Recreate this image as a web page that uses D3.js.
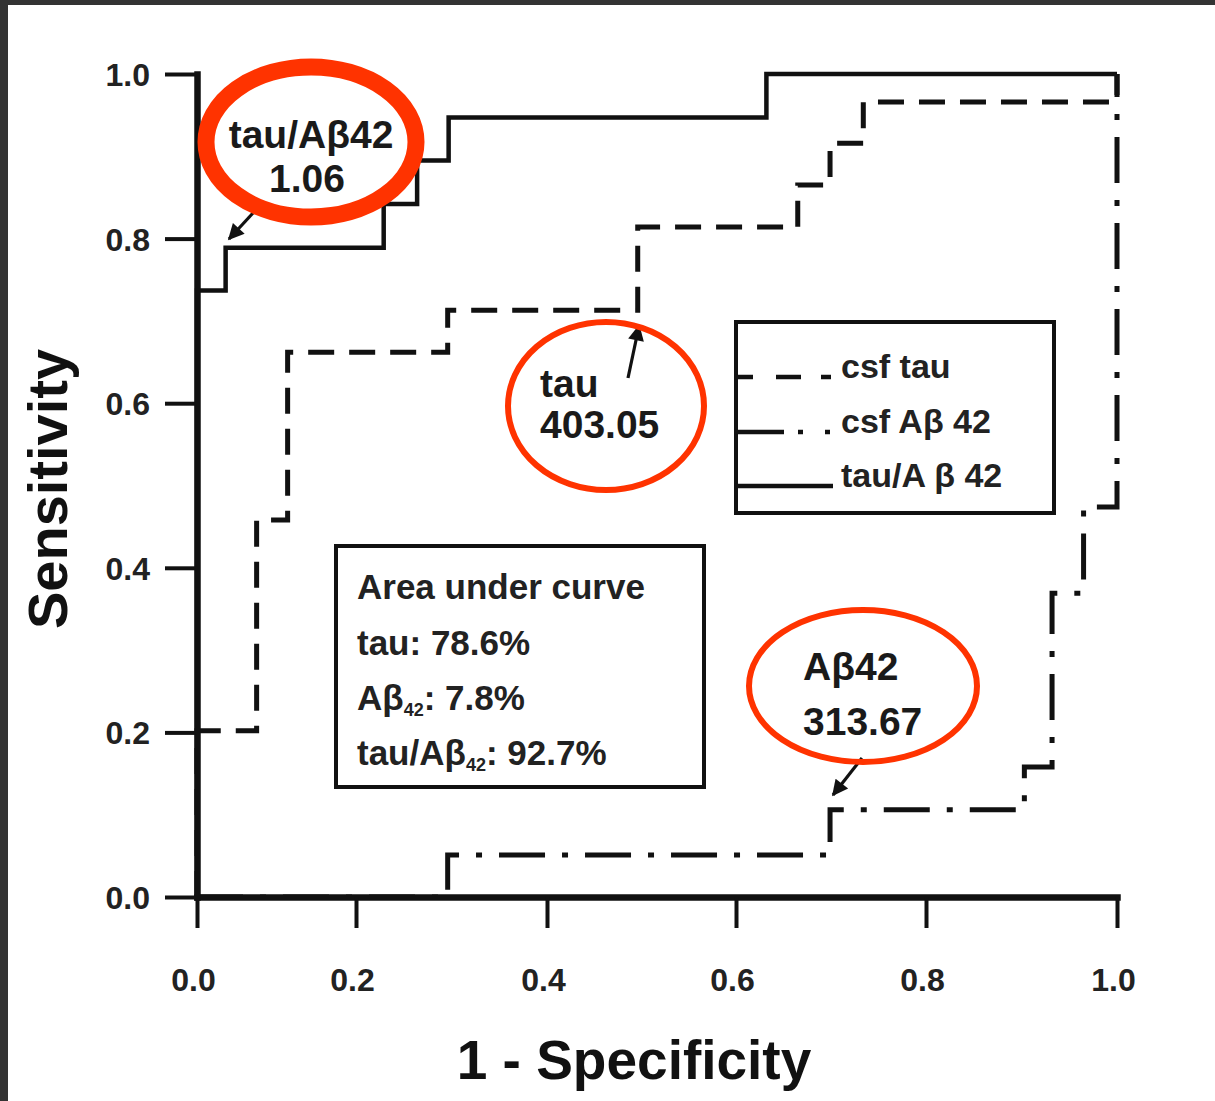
<!DOCTYPE html>
<html><head><meta charset="utf-8">
<script src="https://cdn.jsdelivr.net/npm/d3@7"></script>
<style>
body{margin:0;background:#fff}
svg{display:block}
text{font-family:"Liberation Sans",Arial,Helvetica,sans-serif}
</style>
</head><body>
<svg id="c" width="1215" height="1101"></svg>
<script>
// ---- data ----
const xTicks = [0, 0.2, 0.4, 0.6, 0.8, 1.0];
const yTicks = [0, 0.2, 0.4, 0.6, 0.8, 1.0];
const xTickLabels = ["0.0", "0.2", "0.4", "0.6", "0.8", "1.0"];
const yTickLabels = ["0.0", "0.2", "0.4", "0.6", "0.8", "1.0"];

// csf tau (dashed)
const tauFpr = [0, 0, 0.075, 0.114, 0.296, 0.496, 0.665, 0.699, 0.734, 1];
const tauTpr = [0, 0.202, 0.458, 0.662, 0.713, 0.814, 0.865, 0.916, 0.966, 1];
// csf Abeta42 (dash-dot)
const abFpr = [0, 0.296, 0.699, 0.903, 0.932, 0.965, 1];
const abTpr = [0, 0.051, 0.106, 0.158, 0.369, 0.474, 1];
// tau/Abeta42 (solid)
const ratioFpr = [0, 0, 0.036, 0.229, 0.264, 0.297, 0.632, 1];
const ratioTpr = [0, 0.737, 0.789, 0.842, 0.895, 0.947, 1, 1];

const legendLabels = ["csf tau", "csf Aβ 42", "tau/A β 42"];
const aucTitle = "Area under curve";
const aucNames = ["tau", "Aβ", "tau/Aβ"];
const aucSubs = ["", "42", "42"];
const aucValues = ["78.6%", "7.8%", "92.7%"];

const cutoffNames = ["tau/Aβ42", "tau", "Aβ42"];
const cutoffValues = ["1.06", "403.05", "313.67"];

// ---- drawing ----
const svg = d3.select("#c");
const W = 1215, H = 1101;
const ink = "#111";
const red = "#ff3300";

svg.append("rect").attr("width", W).attr("height", H).attr("fill", "#333");
svg.append("rect").attr("x", 8).attr("y", 5).attr("width", W - 8).attr("height", H - 5).attr("fill", "#fff");

// scales (x axis of the original is slightly uneven; piecewise mapping follows its ticks)
const x = d3.scaleLinear().domain(xTicks).range([197, 356, 547, 736, 926, 1117]);
const y = d3.scaleLinear().domain([0, 1]).range([897, 74]);

function stepLine(fx, fy) {
  return d3.line().x((d, i) => x(fx[i])).y((d, i) => y(fy[i])).curve(d3.curveStepAfter)(fx);
}

// curves
svg.append("path").attr("d", stepLine(tauFpr, tauTpr))
  .attr("fill", "none").attr("stroke", ink).attr("stroke-width", 5)
  .attr("stroke-dasharray", "26,15");
svg.append("path").attr("d", stepLine(abFpr, abTpr))
  .attr("fill", "none").attr("stroke", ink).attr("stroke-width", 5)
  .attr("stroke-dasharray", "46,17,6,17");
svg.append("path").attr("d", stepLine(ratioFpr, ratioTpr))
  .attr("fill", "none").attr("stroke", ink).attr("stroke-width", 4.5);

// axes
const gx = svg.append("g").attr("transform", "translate(0,897)")
  .call(d3.axisBottom(x).tickValues(xTicks).tickFormat((d, i) => xTickLabels[i])
    .tickSize(31).tickSizeOuter(0).tickPadding(40));
const gy = svg.append("g").attr("transform", "translate(197,0)")
  .call(d3.axisLeft(y).tickValues(yTicks).tickFormat((d, i) => yTickLabels[i])
    .tickSize(32).tickSizeOuter(0).tickPadding(15));
[gx, gy].forEach(g => {
  g.select(".domain").style("stroke", ink).style("stroke-width", "6.5px").style("stroke-linecap", "square");
  g.selectAll(".tick line").style("stroke", ink).style("stroke-width", "4px");
  g.selectAll(".tick text").attr("fill", "#222").attr("font-size", 32).attr("font-weight", "bold")
    .attr("font-family", '"Liberation Sans",Arial,sans-serif');
});
gx.selectAll(".tick text").attr("dx", -4);
gy.selectAll(".tick text").attr("dy", "0.36em");

// axis titles
svg.append("text").attr("x", 634).attr("y", 1079).attr("text-anchor", "middle")
  .attr("font-size", 55).attr("font-weight", "bold").attr("fill", ink).text("1 - Specificity");
svg.append("text").attr("transform", "translate(67,489) rotate(-90)").attr("text-anchor", "middle")
  .attr("font-size", 56).attr("font-weight", "bold").attr("fill", ink).text("Sensitivity");

// legend box
svg.append("rect").attr("x", 736).attr("y", 322).attr("width", 318).attr("height", 191)
  .attr("fill", "none").attr("stroke", ink).attr("stroke-width", 4);
const legY = [377, 432, 486];
const legDash = ["17,23,25,20,10,100", "48,14,5,22,5,100", null];
legendLabels.forEach((lab, i) => {
  const ln = svg.append("line").attr("x1", 736).attr("x2", 833).attr("y1", legY[i]).attr("y2", legY[i])
    .attr("stroke", ink).attr("stroke-width", 4.5);
  if (legDash[i]) ln.attr("stroke-dasharray", legDash[i]);
  svg.append("text").attr("x", 841).attr("y", legY[i] + 1).attr("font-size", 34).attr("font-weight", "bold")
    .attr("fill", "#222").text(lab);
});

// AUC box
svg.append("rect").attr("x", 336).attr("y", 546).attr("width", 368).attr("height", 241)
  .attr("fill", "none").attr("stroke", ink).attr("stroke-width", 4);
svg.append("text").attr("x", 357).attr("y", 599).attr("font-size", 35).attr("font-weight", "bold")
  .attr("fill", "#222").text(aucTitle);
const aucY = [655, 710, 765];
aucNames.forEach((n, i) => {
  const t = svg.append("text").attr("x", 357).attr("y", aucY[i]).attr("font-size", 35)
    .attr("font-weight", "bold").attr("fill", "#222");
  t.append("tspan").text(n);
  if (aucSubs[i]) {
    t.append("tspan").attr("font-size", 18).attr("dy", 6).text(aucSubs[i]);
    t.append("tspan").attr("dy", -6).text(": " + aucValues[i]);
  } else {
    t.append("tspan").text(": " + aucValues[i]);
  }
});

// arrow marker
svg.append("defs").append("marker").attr("id", "ah").attr("viewBox", "0 0 10 10")
  .attr("refX", 9).attr("refY", 5).attr("markerWidth", 6).attr("markerHeight", 5)
  .attr("markerUnits", "strokeWidth").attr("orient", "auto")
  .append("path").attr("d", "M0,0L10,5L0,10z").attr("fill", ink);

// annotations: ellipses, texts, arrows
const ann = [
  {cx: 311, cy: 142, rx: 105, ry: 75, sw: 17, tx: 311, anchor: "middle", ty: [148, 192],
   ax1: 253, ay1: 213, ax2: 229, ay2: 239},
  {cx: 606, cy: 406, rx: 98, ry: 84, sw: 6, tx: 540, anchor: "start", ty: [397, 438],
   ax1: 628, ay1: 378, ax2: 639, ay2: 326},
  {cx: 863, cy: 686, rx: 114, ry: 76, sw: 6, tx: 803, anchor: "start", ty: [680, 735],
   ax1: 862, ay1: 758, ax2: 833, ay2: 795}
];
ann.forEach((a, i) => {
  svg.append("line").attr("x1", a.ax1).attr("y1", a.ay1).attr("x2", a.ax2).attr("y2", a.ay2)
    .attr("stroke", ink).attr("stroke-width", 3.2).attr("marker-end", "url(#ah)");
  svg.append("ellipse").attr("cx", a.cx).attr("cy", a.cy).attr("rx", a.rx).attr("ry", a.ry)
    .attr("fill", "none").attr("stroke", red).attr("stroke-width", a.sw);
  svg.append("text").attr("x", a.tx).attr("y", a.ty[0]).attr("text-anchor", a.anchor)
    .attr("font-size", 39).attr("font-weight", "bold").attr("fill", "#1a1a1a").text(cutoffNames[i]);
  svg.append("text").attr("x", a.anchor === "middle" ? a.tx - 4 : a.tx).attr("y", a.ty[1]).attr("text-anchor", a.anchor)
    .attr("font-size", 39).attr("font-weight", "bold").attr("fill", "#1a1a1a").text(cutoffValues[i]);
});
</script>
</body></html>
